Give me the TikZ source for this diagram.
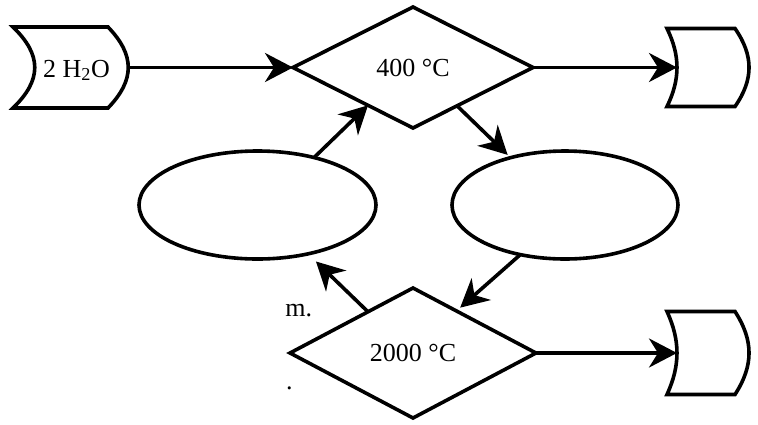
\documentclass[tikz,border=0pt]{standalone}
\usepackage{fontspec}
\setmainfont{Liberation Serif}
\usetikzlibrary{shapes.geometric,arrows.meta,calc}
\begin{document}
\begin{tikzpicture}[x=1pt,y=-1pt,
  every node/.style={inner sep=0pt, outer sep=0pt},
  outline/.style={draw=black, line width=3.6pt, line join=miter},
  decision/.style={outline, diamond, fill=white},
  state/.style={outline, ellipse, fill=white},
  flow/.style={line width=3.6pt, -{Stealth[length=28pt,width=29pt,inset=9pt]}},
  lbl/.style={font=\fontsize{26}{31}\selectfont}]
\useasboundingbox (0,0) rectangle (758,424);

% reactors and intermediate states
\node[decision, lbl, minimum width=240pt, minimum height=121pt] (d1) at (413,67.5) {400 °C};
\node[decision, lbl, minimum width=246pt, minimum height=130pt] (d2) at (413,353) {2000 °C};
\node[state, minimum width=237pt, minimum height=108pt] (e1) at (257.5,205) {};
\node[state, minimum width=226pt, minimum height=108pt] (e2) at (565,205) {};

% input and output frames
\node[minimum width=115pt, minimum height=81pt] (src) at (70.5,67.5) {};
\node[minimum width=82pt, minimum height=78pt] (out1) at (708,67.5) {};
\node[minimum width=82pt, minimum height=83pt] (out2) at (708,353) {};

\draw[outline] (src.north) -- ([xshift=-20pt]src.north east)
  .. controls +(27,28) and +(27,-28) .. ([xshift=-20pt]src.south east)
  -- (src.south west)
  .. controls +(29,-28) and +(29,28) .. (src.north west) -- cycle;
\draw[outline] (out1.north) -- ([xshift=-14pt]out1.north east)
  .. controls +(18.7,27) and +(18.7,-27) .. ([xshift=-14pt]out1.south east)
  -- (out1.south west)
  .. controls +(13.3,-27) and +(13.3,27) .. (out1.north west) -- cycle;
\draw[outline] (out2.north) -- ([xshift=-14pt]out2.north east)
  .. controls +(18.7,29) and +(18.7,-29) .. ([xshift=-14pt]out2.south east)
  -- (out2.south west)
  .. controls +(13.3,-29) and +(13.3,29) .. (out2.north west) -- cycle;

\node[lbl] (srctext) at ([shift={(6,3)}]src.center) {2 H\textsubscript{2}O};

% loose text fragments
\node[lbl, anchor=base east] (tailm) at (312,316) {m.};
\node[lbl, anchor=base west] (taildot) at (286,389) {.};

% connectors
\draw[flow] (src.east) -- (d1.west);
\draw[flow] (d1.east) -- ([xshift=10pt]out1.west);
\draw[flow] (d2.east) -- ([xshift=10pt]out2.west);
\draw[flow] (e1.40) -- ($(d1.west)!0.625!(d1.south)$);
\draw[flow, shorten >=4pt] ($(d1.south)!0.367!(d1.east)$) -- (e2.139);
\draw[flow, shorten >=5pt] (e2.228) -- ($(d2.north)!0.353!(d2.east)$);
\draw[flow, shorten >=11pt] ($(d2.west)!0.634!(d2.north)$) -- (e1.316);
\end{tikzpicture}
\end{document}
